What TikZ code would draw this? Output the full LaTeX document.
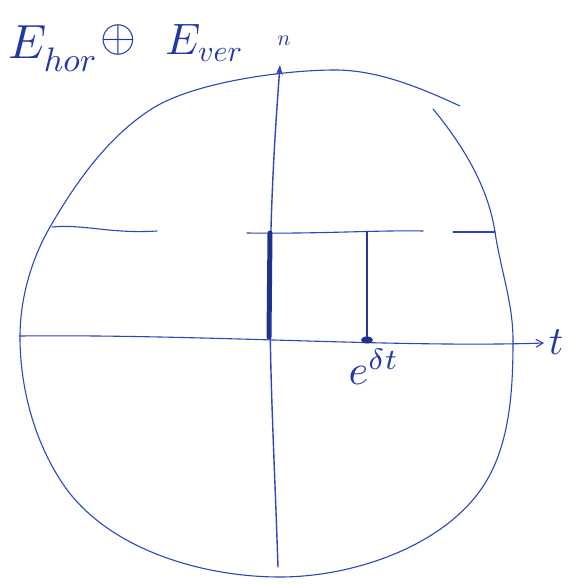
\documentclass[tikz,border=0pt]{standalone}
\usetikzlibrary{arrows.meta}
\definecolor{penblue}{RGB}{45,70,190}
\definecolor{inkblue}{RGB}{35,55,165}
\definecolor{darkink}{RGB}{30,50,140}
\begin{document}
\begin{tikzpicture}[x=1pt,y=-1pt,
  pen/.style={draw=penblue, line width=1.1pt, line cap=round, line join=round},
  lbl/.style={text=inkblue, inner sep=0pt},
  barb/.style={-{Straight Barb[length=7pt,width=8pt,line width=1.1pt]}},
  tip/.style={-{Stealth[length=10pt,width=7pt]}}]
\useasboundingbox (0,0) rectangle (573,585);
\fill[white] (0,0) rectangle (573,585);

% outline (one stroke, slightly overlapping at the top right)
\draw[pen] (460,106) .. controls (421,88) and (378,70) .. (335,70)
  .. controls (285,70) and (192,82) .. (150,110)
  .. controls (107,138) and (75.5,183) .. (50,227)
  .. controls (31,260) and (20,299) .. (20,337)
  .. controls (20,389) and (35,444) .. (65,487)
  .. controls (110,550) and (203,577) .. (280,577)
  .. controls (355,577) and (449.5,544.5) .. (487,480)
  .. controls (510.5,439.6) and (513,387) .. (513,340)
  .. controls (513,303) and (500.5,269) .. (495,232)
  .. controls (488,186) and (462,144) .. (433,109);

% axes
\coordinate (vb) at (278,567);
\coordinate (vm) at (270,300);
\coordinate (vt) at (280,65);
\draw[pen, line width=1.4pt] (vb) .. controls (274,450) and (270,380) .. (vm);
\draw[pen, line width=1.4pt, tip] (vm) .. controls (270,200) and (276,120) .. (vt);

\coordinate (ha) at (20,336);
\coordinate (hb) at (544,343);
\draw[pen, barb] (ha) .. controls (200,334) and (400,348) .. (hb);

% upper horizontal line (three pieces)
\coordinate (u1a) at (52,227);  \coordinate (u1b) at (157,231);
\coordinate (u2a) at (247,233); \coordinate (u2b) at (423,231);
\coordinate (u3a) at (453,232); \coordinate (u3b) at (495,232);
\draw[pen] (u1a) .. controls (85,224) and (110,234) .. (u1b);
\draw[pen] (u2a) .. controls (320,234) and (380,230) .. (u2b);
\draw[pen] (u3a) -- (u3b);

% thick bar
\coordinate (ba) at (270,233);
\coordinate (bb) at (269,337);
\draw[draw=darkink, line width=5pt, line cap=round] (ba) -- (bb);

% second vertical with dot
\coordinate (sa) at (367,231);
\coordinate (sb) at (367,338);
\draw[draw=inkblue, line width=2pt] (sa) -- (sb);
\fill[darkink] (367,340) ellipse (6pt and 3.5pt);

% labels
\node[lbl] (E1) at (28,42) {\scalebox{4.8}{$E$}};
\node[lbl] (sub1) at (70,60) {\scalebox{3.4}{$hor$}};
\node[lbl] (op) at (118,40) {\scalebox{4.6}{$\oplus$}};
\node[lbl] (E2) at (183,39) {\scalebox{4.4}{$E$}};
\node[lbl] (sub2) at (220,55) {\scalebox{3.0}{$ver$}};
\node[lbl] (nl) at (284,41) {\scalebox{2.2}{$n$}};
\node[lbl] (tl) at (556,342) {\scalebox{4.0}{$t$}};
\node[lbl] (el) at (374,367) {\scalebox{4.2}{$e^{\delta t}$}};
\end{tikzpicture}
\end{document}
